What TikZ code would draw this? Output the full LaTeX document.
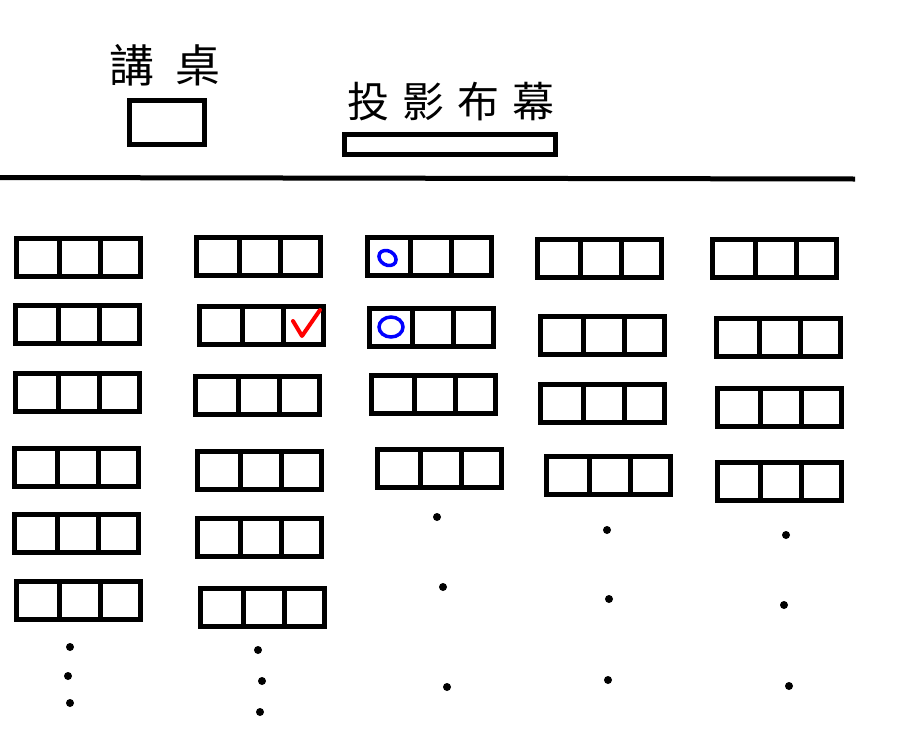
\documentclass[tikz,border=0pt]{standalone}
\usepackage{fontspec}
\newfontfamily\cjk{Noto Sans CJK TC}
\begin{document}
\begin{tikzpicture}[x=1pt,y=-1pt,
	khung/.style={draw,line width=5pt,inner sep=0pt},
	ban/.style={khung,minimum width=124pt,minimum height=38pt,
		path picture={
			\draw[line width=5pt] ([xshift=43pt]path picture bounding box.south west)--([xshift=43pt]path picture bounding box.north west);
			\draw[line width=5pt] ([xshift=84pt]path picture bounding box.south west)--([xshift=84pt]path picture bounding box.north west);}},
	cham/.style={circle,fill,inner sep=0pt,minimum size=8pt}]
	\useasboundingbox (0,0) rectangle (904,731);
	%Giang dai
	\node (chu1) at (165,65) {\cjk\fontsize{45}{45}\selectfont 講\hspace{22pt}桌};
	\node[khung,minimum width=75pt,minimum height=44pt] (giangdai) at (167,122.5) {};
	%Man chieu
	\node (chu2) at (451,102) {\cjk\fontsize{42}{42}\selectfont 投\hspace{13pt}影\hspace{13pt}布\hspace{13pt}幕};
	\node[draw,line width=4.5pt,inner sep=0pt,minimum width=211pt,minimum height=20pt] (manchieu) at (450,144.5) {};
	%Tuong
	\coordinate (t1) at (0,177.5);
	\coordinate (t2) at (855,179);
	\draw[line width=5pt] (t1)--(t2);
	%Day 1
	\node[ban] (b11) at (78.5,257) {};
	\node[ban] (b12) at (77.5,324.5) {};
	\node[ban] (b13) at (77.5,392.5) {};
	\node[ban] (b14) at (76.5,467.5) {};
	\node[ban] (b15) at (76.5,533.5) {};
	\node[ban] (b16) at (78.5,600.5) {};
	\node[cham] (c11) at (70,647) {};
	\node[cham] (c12) at (68,676) {};
	\node[cham] (c13) at (70,703) {};
	%Day 2
	\node[ban] (b21) at (258.5,256.5) {};
	\node[ban] (b22) at (261.5,325.5) {};
	\node[ban] (b23) at (257.5,395.5) {};
	\node[ban] (b24) at (259.5,470.5) {};
	\node[ban] (b25) at (259.5,537.5) {};
	\node[ban] (b26) at (262.5,607.5) {};
	\node[cham] (c21) at (258,650) {};
	\node[cham] (c22) at (262,681) {};
	\node[cham] (c23) at (260,712) {};
	%Day 3
	\node[ban] (b31) at (429.5,256.5) {};
	\node[ban] (b32) at (431,327.5) {};
	\node[ban] (b33) at (433,394.5) {};
	\node[ban] (b34) at (439.5,468.5) {};
	\node[cham] (c31) at (437,517) {};
	\node[cham] (c32) at (443,587) {};
	\node[cham] (c33) at (447,687) {};
	%Day 4
	\node[ban] (b41) at (599,258) {};
	\node[ban] (b42) at (602.5,335.5) {};
	\node[ban] (b43) at (602.5,403) {};
	\node[ban] (b44) at (608.5,475) {};
	\node[cham] (c41) at (607,530) {};
	\node[cham] (c42) at (609,599) {};
	\node[cham] (c43) at (608,680) {};
	%Day 5
	\node[ban] (b51) at (774.5,258.5) {};
	\node[ban] (b52) at (778.5,337) {};
	\node[ban] (b53) at (779.5,407.5) {};
	\node[ban] (b54) at (779.5,481.5) {};
	\node[cham] (c51) at (786,535) {};
	\node[cham] (c52) at (784,605) {};
	\node[cham] (c53) at (789,686) {};
	%Danh dau
	\draw[blue,line width=3.5pt] (387.5,258) ellipse[x radius=9pt,y radius=7pt,rotate=-30];
	\draw[blue,line width=3.5pt] (391,327) ellipse[x radius=12pt,y radius=10pt];
	\draw[red,line width=4pt,line cap=round,line join=round] (293,321)--(302,336)--(320,310);
\end{tikzpicture}
\end{document}
